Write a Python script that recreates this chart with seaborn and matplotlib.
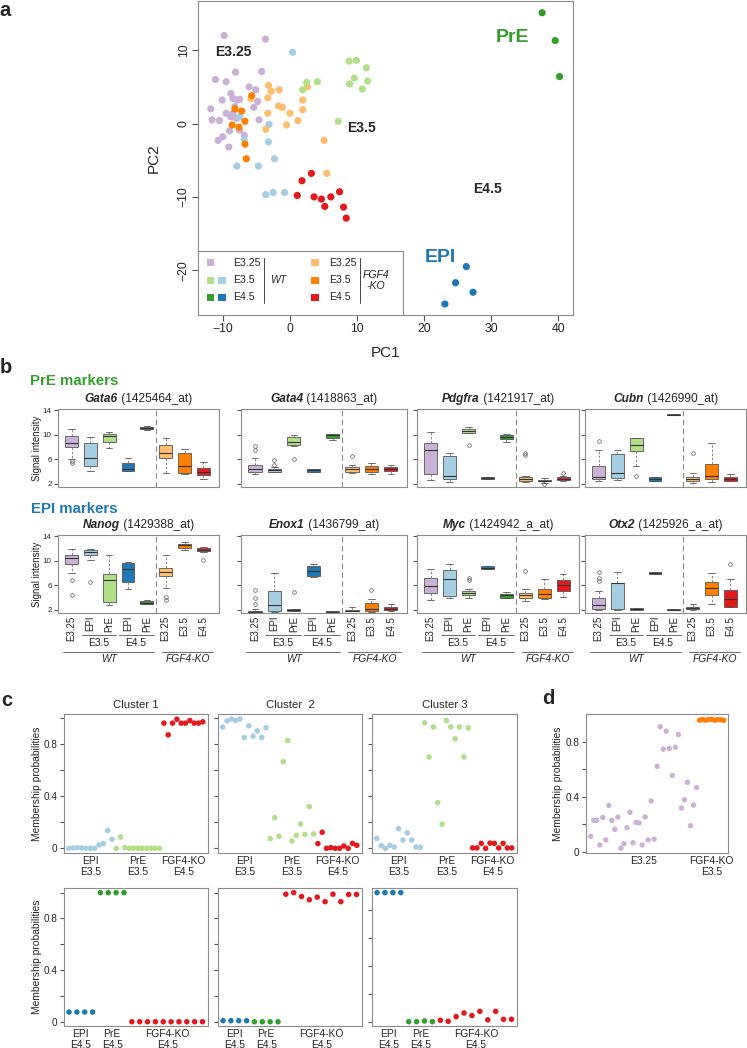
import matplotlib
matplotlib.use("Agg")
import matplotlib.pyplot as plt
import numpy as np
import pandas as pd
import seaborn as sns
from matplotlib.patches import Rectangle

sns.set_style("ticks")
plt.rcParams["font.family"] = ["Liberation Sans", "DejaVu Sans"]

# RColorBrewer "Paired" colours used in the figure
LAV = "#CAB2D6"
LBLUE = "#A6CEE3"
LGREEN = "#B2DF8A"
BLUE = "#1F78B4"
GREEN = "#33A02C"
LORANGE = "#FDBF6F"
ORANGE = "#FF7F00"
RED = "#E31A1C"

# ---------------- panel a : PCA ----------------
wt_e325_x = [-9.8, -3.65, -8.1, -4.2, -11.1, -9.5, -6.1, -5.1, -8.8, -10.1, -8.5, -7.5, -4.8, -11.8, -9.5,
             -8.5, -5.4, -11.6, -10.5, -4.6, -9.0, -7.5, -6.8, -10.0, -10.7, -9.1, -7.9, -8.2, -8.8, -8.0]
wt_e325_y = [12.0, 11.5, 7.0, 7.1, 6.0, 5.7, 5.0, 4.6, 4.1, 3.2, 3.4, 3.3, 3.0, 2.0, 1.4,
             1.4, 2.2, 0.5, 0.4, 0.5, -1.0, -0.9, -1.6, -1.8, -2.3, -3.2, 3.2, 2.3, 0.9, 0.7]
wt_epi35_x = [0.4, -3.1, -3.2, -6.8, -2.3, -7.9, -4.7, -3.6, -2.5, -0.8, -7.5]
wt_epi35_y = [9.7, -0.1, -2.5, -2.2, -4.8, -5.8, -5.8, -9.7, -9.4, -9.4, 0.9]
wt_pre35_x = [8.8, 9.9, 11.4, 9.6, 8.9, 10.8, 11.6, 2.5, 4.1, 1.9, 7.2]
wt_pre35_y = [8.5, 8.6, 7.6, 6.2, 5.4, 4.7, 5.8, 5.6, 5.7, 4.6, 0.3]
ko_e325_x = [-3.2, -2.8, -1.6, -3.3, -5.8, -1.7, -1.1, -3.3, 0.0, -0.5, 1.2, 1.9, 1.9, 2.6, -3.6, 5.1, 5.5]
ko_e325_y = [5.2, 4.4, 4.6, 3.5, 3.4, 2.4, 2.2, 1.4, 1.4, -0.2, 0.4, 3.2, 1.9, 5.0, -0.8, -2.3, -6.8]
ko_e35_x = [-5.7, -8.2, -7.2, -8.6, -7.6, -6.7, -6.7, -6.5]
ko_e35_y = [3.8, 2.0, 1.7, -0.2, -0.5, 0.3, -2.8, -4.8]
ko_e45_x = [3.2, 1.8, 1.1, 3.6, 4.7, 6.1, 5.2, 7.4, 8.0, 8.4]
ko_e45_y = [-6.8, -7.8, -9.8, -10.0, -10.3, -10.0, -11.3, -9.3, -11.4, -12.9]
wt_pre45_x = [37.6, 39.55, 40.2]
wt_pre45_y = [15.1, 11.3, 6.4]
wt_epi45_x = [26.3, 24.7, 27.3, 23.1]
wt_epi45_y = [-19.5, -21.7, -23.0, -24.6]

# ---------------- panel b : boxplot summaries (whislo, q1, med, q3, whishi, outliers) ----------------
box_labels = ["E3.25", "EPI", "PrE", "EPI", "PrE", "E3.25", "E3.5", "E4.5"]
box_colors = [LAV, LBLUE, LGREEN, BLUE, GREEN, LORANGE, ORANGE, RED]

gata6 = [(6.1, 8.05, 8.6, 9.8, 10.9, [5.8, 5.4]), (4.1, 5.0, 6.2, 8.6, 9.7, []),
         (7.9, 8.9, 9.8, 10.2, 10.5, []), (4.15, 4.15, 4.4, 5.35, 6.3, []),
         (10.8, 10.9, 11.1, 11.3, 11.45, []), (3.7, 6.3, 7.0, 8.3, 9.5, []),
         (3.6, 3.85, 4.9, 7.0, 7.7, []), (2.8, 3.5, 4.0, 4.55, 5.5, [])]
gata4 = [(3.6, 4.0, 4.4, 5.1, 6.3, [8.2, 7.6]), (4.0, 4.0, 4.25, 4.5, 4.8, [5.9, 5.1]),
         (8.2, 8.4, 8.9, 9.6, 9.9, [6.0]), (4.0, 4.0, 4.2, 4.4, 4.5, []),
         (9.1, 9.55, 10.0, 10.2, 10.2, []), (3.8, 4.0, 4.4, 4.8, 5.1, [6.5]),
         (3.6, 4.0, 4.5, 4.9, 5.45, []), (3.6, 4.16, 4.5, 4.8, 5.1, [])]
pdgfra = [(2.65, 3.6, 7.5, 8.6, 10.4, []), (2.3, 2.8, 3.35, 6.5, 7.1, []),
          (10.3, 10.3, 10.6, 10.9, 11.3, [8.3]), (2.85, 2.85, 3.0, 3.2, 3.2, []),
          (8.9, 9.25, 9.7, 9.95, 10.2, []), (2.3, 2.55, 2.8, 3.1, 3.35, [7.1, 6.7]),
          (2.2, 2.4, 2.55, 2.7, 2.9, [2.0]), (2.4, 2.6, 2.8, 3.1, 3.3, [3.85])]
cubn = [(2.4, 2.75, 3.2, 4.9, 7.5, [9.0]), (2.65, 2.9, 3.8, 6.8, 7.6, []),
        (4.9, 7.4, 8.3, 9.4, 9.55, [3.35]), (2.4, 2.4, 2.75, 3.1, 3.2, []),
        (13.2, 13.25, 13.3, 13.35, 13.4, []), (2.1, 2.5, 2.75, 3.05, 3.85, [7.1]),
        (2.3, 2.8, 3.3, 5.2, 8.7, []), (2.4, 2.5, 2.8, 3.2, 3.6, [])]
nanog = [(8.05, 9.4, 10.5, 11.0, 11.95, [6.8, 4.5]), (10.05, 11.0, 11.4, 11.7, 11.95, [6.6]),
         (2.75, 3.3, 6.9, 7.9, 10.9, []), (5.35, 6.6, 8.6, 9.7, 9.8, []),
         (2.9, 2.9, 3.2, 3.45, 3.55, []), (5.6, 7.5, 8.2, 8.9, 10.9, [4.1, 3.6]),
         (11.8, 12.1, 12.5, 12.8, 13.0, []), (11.45, 11.55, 11.8, 12.1, 12.25, [10.1])]
enox1 = [(1.6, 1.6, 1.7, 1.85, 2.1, [5.2, 4.0, 2.9]), (1.7, 1.8, 2.75, 5.1, 8.05, []),
         (1.8, 1.8, 2.0, 2.1, 2.1, [4.9]), (7.4, 7.5, 8.3, 9.1, 9.5, []),
         (1.65, 1.65, 1.7, 1.75, 1.75, []), (1.8, 1.8, 1.9, 2.0, 2.5, []),
         (1.7, 1.85, 2.2, 3.1, 3.85, [5.2]), (1.9, 2.0, 2.15, 2.4, 2.9, [])]
myc = [(3.6, 4.8, 5.9, 7.25, 8.6, []), (4.0, 4.3, 7.0, 8.5, 9.5, []),
       (4.0, 4.4, 4.8, 5.1, 5.45, [7.25, 6.8]), (8.7, 8.7, 8.9, 9.1, 9.1, []),
       (3.9, 4.0, 4.4, 4.65, 5.0, []), (3.45, 3.9, 4.4, 4.7, 5.35, [8.3]),
       (3.7, 3.9, 4.55, 5.45, 7.0, []), (4.1, 5.1, 6.05, 6.9, 7.9, [])]
otx2 = [(2.0, 2.2, 2.75, 4.0, 5.1, [8.2, 7.25, 6.7]), (2.0, 2.2, 6.4, 6.4, 8.2, []),
        (2.05, 2.05, 2.15, 2.25, 2.25, []), (7.8, 7.8, 8.0, 8.2, 8.2, []),
        (1.95, 1.95, 2.05, 2.2, 2.2, []), (2.0, 2.1, 2.3, 2.5, 2.9, []),
        (2.9, 4.4, 5.6, 6.6, 7.95, []), (2.4, 2.55, 3.7, 5.25, 7.1, [9.5])]

pre_genes = [("Gata6", "(1425464_at)", gata6), ("Gata4", "(1418863_at)", gata4),
             ("Pdgfra", "(1421917_at)", pdgfra), ("Cubn", "(1426990_at)", cubn)]
epi_genes = [("Nanog", "(1429388_at)", nanog), ("Enox1", "(1436799_at)", enox1),
             ("Myc", "(1424942_a_at)", myc), ("Otx2", "(1425926_a_at)", otx2)]

# ---------------- panel c : cluster membership ----------------
c1_epi35 = [0, 0.003, 0.005, 0.003, 0, 0, 0, 0.026, 0.036, 0.136, 0.069]
c1_pre35 = [0, 0.087, 0.005, 0, 0, 0, 0, 0, 0, 0, 0]
c1_ko45 = [0.96, 0.87, 0.96, 0.99, 0.96, 0.96, 0.98, 0.96, 0.96, 0.97]
c2_epi35 = [0.93, 0.977, 0.992, 0.98, 0.992, 0.85, 0.94, 0.86, 0.90, 0.85, 0.925]
c2_pre35 = [0.074, 0.235, 0.092, 0.665, 0.826, 0.056, 0.10, 0.187, 0.107, 0.32, 0.11]
c2_ko45 = [0.036, 0.123, 0, 0.005, 0, 0, 0.018, 0, 0.038, 0.023]
c3_epi35 = [0.076, 0.02, 0, 0.023, 0.01, 0.15, 0.063, 0.119, 0.063, 0.01, 0.008]
c3_pre35 = [0.962, 0.70, 0.93, 0.35, 0.185, 0.98, 0.93, 0.84, 0.93, 0.70, 0.925]
c3_ko45 = [0.003, 0.003, 0.038, 0, 0.04, 0.038, 0.003, 0.038, 0.003, 0.003]

c1_epi45 = [0.075, 0.075, 0.075, 0.075]
c1_pre45 = [1.0, 1.0, 1.0, 1.0]
c1_ko45b = [0, 0, 0, 0, 0, 0, 0, 0, 0, 0]
c2_epi45 = [0.008, 0.008, 0.008, 0.008]
c2_pre45 = [0, 0, 0, 0]
c2_ko45b = [0.988, 1.0, 0.97, 0.945, 0.965, 0.93, 0.988, 0.93, 0.986, 0.986]
c3_epi45 = [0.924, 0.924, 0.924, 0.924]
c3_pre45 = [0, 0, 0.005, 0]
c3_ko45b = [0.01, 0.003, 0.036, 0.062, 0.044, 0.074, 0.013, 0.074, 0.017, 0.017]

# ---------------- panel d ----------------
d_wt_e325 = [0.113, 0.229, 0.229, 0.05, 0.25, 0.087, 0.337, 0.229, 0.164, 0.253,
             0.027, 0.06, 0.176, 0.287, 0.067, 0.214, 0.21, 0.05, 0.253, 0.087,
             0.369, 0.092, 0.62, 0.908, 0.745, 0.875, 0.749, 0.554, 0.759, 0.851,
             0.318, 0.378, 0.504, 0.19, 0.34, 0.467]
d_ko_e35 = [0.955, 0.96, 0.955, 0.96, 0.962, 0.955, 0.96, 0.958, 0.955]

W, H = 747, 1048
fig = plt.figure(figsize=(W / 100, H / 100), dpi=100)
FRAME = "#8c8c8c"


def px_axes(x0, y0, x1, y1):
    return fig.add_axes([x0 / W, 1 - y1 / H, (x1 - x0) / W, (y1 - y0) / H])


def frame(ax):
    for s in ax.spines.values():
        s.set_visible(True)
        s.set_color(FRAME)
        s.set_linewidth(0.8)
    ax.tick_params(color="#555555", direction="out")


def fy(y):
    return 1 - y / H


# panel letters
for letter, x, y in [("a", 5, 10), ("b", 6, 368), ("c", 7, 700), ("d", 548, 699)]:
    fig.text(x / W, fy(y), letter, fontsize=14.5, weight="bold", ha="center", va="center")

# ================= a =================
ax = px_axes(198, 1, 573, 315)
frame(ax)
pca_parts = [("WT E3.25", wt_e325_x, wt_e325_y), ("WT EPI E3.5", wt_epi35_x, wt_epi35_y),
             ("KO E3.25", ko_e325_x, ko_e325_y), ("WT PrE E3.5", wt_pre35_x, wt_pre35_y),
             ("KO E3.5", ko_e35_x, ko_e35_y), ("KO E4.5", ko_e45_x, ko_e45_y),
             ("WT PrE E4.5", wt_pre45_x, wt_pre45_y), ("WT EPI E4.5", wt_epi45_x, wt_epi45_y)]
pca = pd.concat([pd.DataFrame({"PC1": x, "PC2": y, "group": g}) for g, x, y in pca_parts],
                ignore_index=True)
pca_pal = {"WT E3.25": LAV, "WT EPI E3.5": LBLUE, "WT PrE E3.5": LGREEN, "WT EPI E4.5": BLUE,
           "WT PrE E4.5": GREEN, "KO E3.25": LORANGE, "KO E3.5": ORANGE, "KO E4.5": RED}
sns.scatterplot(data=pca, x="PC1", y="PC2", hue="group", palette=pca_pal, s=27,
                linewidth=0, legend=False, ax=ax)
ax.set_xlim(-13.7, 42.2)
ax.set_ylim(-26.1, 16.7)
ax.set_xticks([-10, 0, 10, 20, 30, 40])
ax.set_yticks([-20, -10, 0, 10])
ax.tick_params(labelsize=8.8, length=4, pad=2)
for lab in ax.get_yticklabels():
    lab.set_rotation(90)
    lab.set_va("center")
ax.set_xlabel("PC1", fontsize=11)
ax.set_ylabel("PC2", fontsize=11)
ax.xaxis.set_label_coords(0.5, -0.098)
ax.yaxis.set_label_coords(-0.1, 0.5)

ax.text(-8.5, 9.7, "E3.25", fontsize=10, weight="bold", ha="center", va="center")
ax.text(10.7, -0.6, "E3.5", fontsize=10, weight="bold", ha="center", va="center")
ax.text(29.5, -8.9, "E4.5", fontsize=10, weight="bold", ha="center", va="center")
ax.text(33.2, 11.7, "PrE", fontsize=14, weight="bold", color=GREEN, ha="center", va="center")
ax.text(22.4, -18.2, "EPI", fontsize=14, weight="bold", color=BLUE, ha="center", va="center")

# legend drawn in axes fraction
ta = ax.transAxes
ax.add_patch(Rectangle((0, 0), 0.547, 0.204, transform=ta, facecolor="white",
                       edgecolor=FRAME, linewidth=0.8, zorder=5))
sq_w, sq_h = 0.019, 0.0225
rows_y = [0.166, 0.111, 0.057]
leg_left = [[LAV], [LGREEN, LBLUE], [GREEN, BLUE]]
leg_right = [LORANGE, ORANGE, RED]
for i, (yy, lab) in enumerate(zip(rows_y, ["E3.25", "E3.5", "E4.5"])):
    for j, col in enumerate(leg_left[i]):
        ax.add_patch(Rectangle((0.034 + 0.03 * j - sq_w / 2, yy - sq_h / 2), sq_w, sq_h,
                               transform=ta, facecolor=col, edgecolor="none", zorder=6))
    ax.text(0.093, yy, lab, transform=ta, fontsize=7.6, va="center", ha="left", zorder=6)
    ax.add_patch(Rectangle((0.312 - sq_w / 2, yy - sq_h / 2), sq_w, sq_h,
                           transform=ta, facecolor=leg_right[i], edgecolor="none", zorder=6))
    ax.text(0.349, yy, lab, transform=ta, fontsize=7.6, va="center", ha="left", zorder=6)
ax.plot([0.176, 0.176], [0.038, 0.182], transform=ta, color="#444444", lw=0.7, zorder=6)
ax.plot([0.432, 0.432], [0.038, 0.182], transform=ta, color="#444444", lw=0.7, zorder=6)
ax.text(0.192, 0.111, "WT", transform=ta, fontsize=7.6, style="italic", va="center", zorder=6)
ax.text(0.474, 0.111, "FGF4\n-KO", transform=ta, fontsize=7.6, style="italic", va="center",
        ha="center", zorder=6, linespacing=1.1)

# ================= b =================
fig.text(30 / W, fy(381), "PrE markers", fontsize=10.8, weight="bold", color=GREEN, va="center")
fig.text(31 / W, fy(509), "EPI markers", fontsize=10.8, weight="bold", color=BLUE, va="center")

col_x = [(58, 219), (241, 407), (417, 579), (585, 746)]
renderer = fig.canvas.get_renderer()


def mixed_title(ax, gene, probe, y_px):
    bb = ax.get_position()
    cx = (bb.x0 + bb.x1) / 2 * W
    t1 = fig.text(0, fy(y_px), gene, fontsize=8.6, weight="bold", style="italic", va="center")
    t2 = fig.text(0, fy(y_px), " " + probe, fontsize=8.6, va="center")
    w1 = t1.get_window_extent(renderer).width
    w2 = t2.get_window_extent(renderer).width
    x0 = cx - (w1 + w2) / 2
    t1.set_x(x0 / W)
    t2.set_x((x0 + w1) / W)


def box_panel(ax, stats, show_ylab, show_xlab):
    frame(ax)
    bxp_stats = [dict(whislo=s[0], q1=s[1], med=s[2], q3=s[3], whishi=s[4], fliers=s[5])
                 for s in stats]
    arts = ax.bxp(bxp_stats, positions=list(range(8)), widths=0.68, patch_artist=True,
                  boxprops=dict(edgecolor="#555555", linewidth=0.6),
                  medianprops=dict(color="#333333", linewidth=0.8),
                  whiskerprops=dict(color="#777777", linewidth=0.6, linestyle=(0, (3, 2))),
                  capprops=dict(color="#555555", linewidth=0.6),
                  flierprops=dict(marker="o", markersize=2.6, markerfacecolor="none",
                                  markeredgecolor="#555555", markeredgewidth=0.5))
    for patch, col in zip(arts["boxes"], box_colors):
        patch.set_facecolor(col)
    ax.axvline(4.5, color="#8c8c8c", lw=0.8, linestyle=(0, (5, 3)))
    ax.set_xlim(-0.72, 7.83)
    ax.set_ylim(1.5, 14.2)
    ax.set_yticks([2, 6, 10, 14])
    ax.tick_params(axis="y", labelsize=5.8, length=3, pad=1.5)
    if show_ylab:
        ax.set_ylabel("Signal intensity", fontsize=7)
        ax.yaxis.set_label_coords(-0.1, 0.5)
    else:
        ax.set_yticklabels([])
    if show_xlab:
        ax.set_xticks(range(8))
        ax.set_xticklabels(box_labels, rotation=90, fontsize=7)
        ax.tick_params(axis="x", length=0, pad=2)
        tr = ax.get_xaxis_transform()
        kw = dict(transform=tr, clip_on=False, color="#555555", lw=0.6)
        ax.plot([0.53, 2.35], [-0.282, -0.282], **kw)
        ax.plot([2.5, 4.38], [-0.282, -0.282], **kw)
        ax.plot([-0.48, 4.38], [-0.5, -0.5], **kw)
        ax.plot([4.8, 7.5], [-0.5, -0.5], **kw)
        ax.text(1.44, -0.385, "E3.5", transform=tr, fontsize=7.4, ha="center", va="center")
        ax.text(3.42, -0.385, "E4.5", transform=tr, fontsize=7.4, ha="center", va="center")
        ax.text(2.0, -0.59, "WT", transform=tr, fontsize=7.4, style="italic", ha="center", va="center")
        ax.text(6.2, -0.59, "FGF4-KO", transform=tr, fontsize=7.4, style="italic",
                ha="center", va="center")
    else:
        ax.set_xticks([])


for row, (genes, (y0, y1)) in enumerate([(pre_genes, (409, 487)), (epi_genes, (535, 613))]):
    for c, (gene, probe, stats) in enumerate(genes):
        bax = px_axes(col_x[c][0], y0, col_x[c][1], y1)
        box_panel(bax, stats, c == 0, row == 1)
        mixed_title(bax, gene, probe, y0 - 10)

# ================= c =================
c_cols = [(64, 208), (218, 362), (372, 517)]
top_series = [(c1_epi35, c1_pre35, c1_ko45), (c2_epi35, c2_pre35, c2_ko45), (c3_epi35, c3_pre35, c3_ko45)]
bot_series = [(c1_epi45, c1_pre45, c1_ko45b), (c2_epi45, c2_pre45, c2_ko45b), (c3_epi45, c3_pre45, c3_ko45b)]
top_labels = ["EPI\nE3.5", "PrE\nE3.5", "FGF4-KO\nE4.5"]
bot_labels = ["EPI\nE4.5", "PrE\nE4.5", "FGF4-KO\nE4.5"]
titles = ["Cluster 1", "Cluster  2", "Cluster 3"]


def member_axes(ax, series, colors, labels, s=16):
    frame(ax)
    parts = []
    for vals, lab in zip(series, labels):
        parts.append(pd.DataFrame({"prob": vals, "group": lab}))
    df = pd.concat(parts, ignore_index=True)
    df["cell"] = np.arange(len(df))
    sns.scatterplot(data=df, x="cell", y="prob", hue="group", palette=dict(zip(labels, colors)),
                    s=s, linewidth=0, legend=False, ax=ax)
    centers = df.groupby("group", sort=False)["cell"].mean()
    ax.set_xticks(centers.values)
    ax.set_xticklabels(labels, fontsize=7.4, linespacing=1.1)
    ax.tick_params(axis="x", length=0, pad=2)
    ax.tick_params(axis="y", labelsize=7.2, length=3, pad=1.5)
    ax.set_xlabel("")
    ax.set_ylabel("")
    return df


for c in range(3):
    ax = px_axes(c_cols[c][0], 714, c_cols[c][1], 853)
    df = member_axes(ax, top_series[c], [LBLUE, LGREEN, RED], top_labels)
    ax.set_xlim(-1.1, len(df) + 0.2)
    ax.set_ylim(-0.036, 1.03)
    ax.set_yticks([0, 0.2, 0.4, 0.6, 0.8, 1.0])
    ax.set_title(titles[c], fontsize=8.2, pad=4)
    if c == 0:
        ax.set_yticklabels(["0", "", "0.4", "", "0.8", ""])
        ax.set_ylabel("Membership probabilities", fontsize=7.4)
        ax.yaxis.set_label_coords(-0.155, 0.5)
    else:
        ax.set_yticklabels([])

    ax = px_axes(c_cols[c][0], 888, c_cols[c][1], 1026)
    df = member_axes(ax, bot_series[c], [BLUE, GREEN, RED], bot_labels)
    ax.set_xlim(-0.64, len(df) - 0.3)
    if c == 2:
        ax.set_ylim(-0.031, 0.957)
        ax.set_yticks([0, 0.2, 0.4, 0.6, 0.8])
    else:
        ax.set_ylim(-0.033, 1.036)
        ax.set_yticks([0, 0.2, 0.4, 0.6, 0.8, 1.0])
    if c == 0:
        ax.set_yticklabels(["0", "", "0.4", "", "0.8", ""])
        ax.set_ylabel("Membership probabilities", fontsize=7.4)
        ax.yaxis.set_label_coords(-0.155, 0.5)
    else:
        ax.set_yticklabels([])

# ================= d =================
ax = px_axes(586, 714, 728, 853)
df = member_axes(ax, (d_wt_e325, d_ko_e35), [LAV, ORANGE], ["E3.25", "FGF4-KO\nE3.5"], s=15)
ax.set_xlim(-1.54, len(df) + 0.4)
ax.set_ylim(-0.008, 1.0)
ax.set_yticks([0, 0.2, 0.4, 0.6, 0.8])
ax.set_yticklabels(["0", "", "0.4", "", "0.8"])
for lab in ax.get_xticklabels():
    lab.set_va("top")
ax.set_ylabel("Membership probabilities", fontsize=7.4)
ax.yaxis.set_label_coords(-0.16, 0.5)

fig.savefig("out.png", dpi=100)
